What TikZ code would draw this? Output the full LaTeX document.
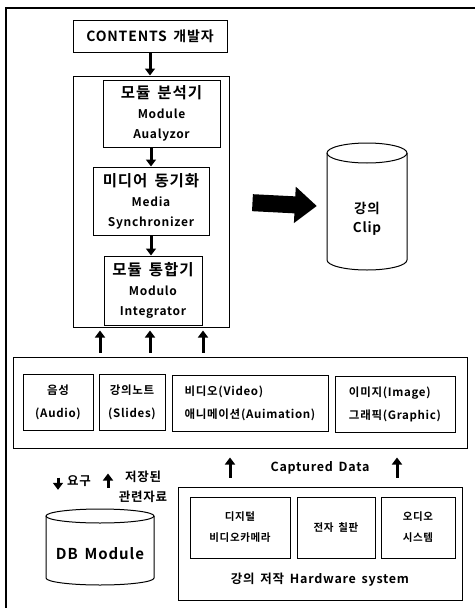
\documentclass[tikz,border=0pt]{standalone}
\usepackage{fontspec}
\setmainfont{Noto Sans CJK KR}[BoldFont={Noto Sans CJK KR Bold}, LetterSpace=6, WordSpace=1.6]
\usetikzlibrary{arrows.meta,calc}
\newcommand\kobig[1]{{\fontsize{15.5}{15.5}\selectfont #1}}
\begin{document}
\begin{tikzpicture}[x=1pt,y=-1pt,
  box/.style={draw, line width=1pt, inner sep=0pt, align=center},
  modtext/.style={font=\bfseries\fontsize{12}{20}\selectfont},
  medtext/.style={font=\bfseries\fontsize{11.5}{23}\selectfont},
  hwtext/.style={font=\bfseries\fontsize{10.5}{21}\selectfont},
  lbltext/.style={font=\bfseries\fontsize{12.5}{20}\selectfont},
  arr/.style={line width=3pt, -{Triangle[length=7pt,width=10pt]}},
  bigarr/.style={line width=17pt, -{Triangle[length=22pt,width=35pt]}},
  cyl/.style={line width=1pt}]
\useasboundingbox (0,0) rectangle (475,608);
% outer frame
\draw[line width=2pt] (6,608) -- (6,8) -- (475,8);

% top part
\node[box, minimum width=154pt, minimum height=32pt, font=\bfseries\fontsize{14}{16}\selectfont] (contents) at (150,36) {CONTENTS 개발자};
\node[box, minimum width=156pt, minimum height=251pt] (container) at (151,201.5) {};
\node[box, modtext, minimum width=117pt, minimum height=67pt] (analyzer) at (161.5,113.5) {\kobig{모듈 분석기}\\Module\\Aualyzor};
\node[box, modtext, minimum width=116pt, minimum height=68pt] (sync) at (151,201) {\kobig{미디어 동기화}\\Media\\Synchronizer};
\node[box, modtext, minimum width=98pt, minimum height=69pt] (integ) at (153,290.5) {\kobig{모듈 통합기}\\Modulo\\Integrator};

\draw[arr] (contents.south) -- (contents.south |- container.north);
\draw[arr] (sync.north |- analyzer.south) -- (sync.north);
\draw[arr] (sync.south) -- (sync.south |- integ.north);

% clip cylinder
\node[inner sep=0pt, minimum width=80pt, minimum height=127pt] (clip) at (367,206.5) {};
\draw[cyl] (327,153) -- (327,260) arc[start angle=180, end angle=0, x radius=40, y radius=10] -- (407,153);
\draw[cyl] (367,153) ellipse[x radius=40, y radius=10];
\node[font=\bfseries\fontsize{13.5}{19}\selectfont, align=center] (cliplabel) at (367,219) {강의\\Clip};
\draw[bigarr, shorten <=23pt, shorten >=10pt] (container.east) -- (clip.west);

% media box
\node[box, minimum width=454pt, minimum height=91pt] (media) at (240,402.5) {};
\node[box, medtext, minimum width=70pt, minimum height=56pt] (audio) at (58,402) {음성\\(Audio)};
\node[box, medtext, minimum width=66pt, minimum height=56pt] (slides) at (132,402) {강의노트\\(Slides)};
\node[box, medtext, align=left, minimum width=156pt, minimum height=56pt] (video) at (250,403) {비디오(Video)\\애니메이션(Auimation)};
\node[box, medtext, align=left, minimum width=120pt, minimum height=56pt] (image) at (395,404) {이미지(Image)\\그래픽(Graphic)};

\coordinate (u1) at (100,0);
\coordinate (u2) at (150,0);
\coordinate (u3) at (203,0);
\foreach \u in {u1,u2,u3}
  \draw[arr, shorten <=4pt, shorten >=3pt] (media.north -| \u) -- (container.south -| \u);

% hardware box
\node[box, minimum width=284pt, minimum height=113pt] (hw) at (320,543.5) {};
\node[box, hwtext, minimum width=100pt, minimum height=61pt] (camera) at (240,527.5) {디지털\\비디오카메라};
\node[box, hwtext, minimum width=78pt, minimum height=61pt] (board) at (336,527.5) {전자 칠판};
\node[box, hwtext, minimum width=74pt, minimum height=61pt] (audiosys) at (418,527.5) {오디오\\시스템};
\node[lbltext] (hwlabel) at (320,580) {강의 저작 Hardware system};

\coordinate (c1) at (230,0);
\coordinate (c2) at (397,0);
\draw[arr, shorten <=9pt, shorten >=9pt] (hw.north -| c1) -- (media.south -| c1);
\draw[arr, shorten <=9pt, shorten >=9pt] (hw.north -| c2) -- (media.south -| c2);
\node[lbltext] (cap) at (320,468) {Captured Data};

% DB cylinder
\node[inner sep=0pt, minimum width=108pt, minimum height=76pt] (db) at (100,547) {};
\draw[cyl] (46,516) -- (46,578) arc[start angle=180, end angle=0, x radius=54, y radius=7] -- (154,516);
\draw[cyl] (100,516) ellipse[x radius=54, y radius=7];
\node[font=\bfseries\fontsize{15}{17}\selectfont] (dblabel) at (100,554) {DB Module};

\coordinate (d1) at (58,0);
\coordinate (d2) at (108,0);
\draw[arr, shorten <=29pt, shorten >=19pt] (media.south -| d1) -- (db.north -| d1);
\draw[arr, shorten <=21pt, shorten >=25pt] (db.north -| d2) -- (media.south -| d2);
\node[lbltext] (req) at (79,481) {요구};
\node[lbltext, align=center] (stored) at (143,487) {저장된\\관련자료};
\end{tikzpicture}
\end{document}
